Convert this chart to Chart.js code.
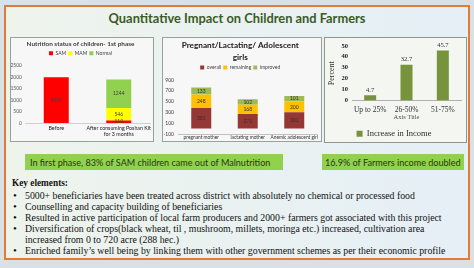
<!DOCTYPE html>
<html><head><meta charset="utf-8">
<script src="https://cdn.jsdelivr.net/npm/chart.js@4.4.0/dist/chart.umd.min.js"></script>
<style>
html,body{margin:0;padding:0;}
body{width:474px;height:268px;background:#d9e1e6;position:relative;overflow:hidden;font-family:Lato,'Liberation Sans',sans-serif;}
#panel{position:absolute;left:4px;top:5px;width:462px;height:251px;border:2px solid #e07b39;background:linear-gradient(90deg,#eef4ec,#e5eff6);}
.abs{position:absolute;white-space:nowrap;}
#title{left:0;width:474px;top:8px;height:20px;line-height:20px;text-align:center;color:#3a5a26;font-weight:bold;font-size:15px;}
.box{position:absolute;background:#f6f7f6;border:1px solid #9aa09a;overflow:hidden;}
.box canvas{position:absolute;left:0;top:0;}
.green{position:absolute;background:#92d050;color:#1e3a10;height:16px;line-height:16px;font-size:11px;white-space:nowrap;}
.ke{position:absolute;left:25px;height:11px;line-height:11px;font-family:'Liberation Serif',serif;font-size:11px;color:#111;white-space:nowrap;}
.bul{position:absolute;left:13px;height:11px;line-height:11px;font-family:'Liberation Serif',serif;font-size:11px;color:#111;}
</style></head>
<body>
<div id="panel"></div>
<div id="title" class="abs">Quantitative Impact on Children and Farmers</div>

<div class="box" style="left:10px;top:37px;width:142px;height:103px;"><canvas id="c1" width="142" height="103"></canvas></div>
<div class="box" style="left:162px;top:37px;width:158px;height:103px;"><canvas id="c2" width="158" height="103"></canvas></div>
<div class="box" style="left:324px;top:37px;width:141px;height:104px;background:#f3f6f1;border-color:#8e968e;"><canvas id="c3" width="141" height="110"></canvas></div>

<div class="green" id="g1" style="left:25px;top:154px;width:258px;"><span style="padding-left:5px">In first phase, 83% of SAM children came out of Malnutrition</span></div>
<div class="green" id="g2" style="left:322px;top:154px;width:142px;"><span style="padding-left:3px">16.9% of Farmers income doubled</span></div>

<div class="ke" id="keyhead" style="left:12px;top:178px;font-weight:bold;">Key elements:</div>
<div id="keys"></div>

<script>
// ---------- data ----------
const c1Categories = ["Before", ["After consuming Poshan Kit", "for 3 months"]];
const c1SAM = [2000, 110];
const c1MAM = [null, 546];
const c1Normal = [null, 1244];

const c2Categories = ["pregnant mother", "lactating mother", "Anemic adolescent girl"];
const c2Overall = [381, 271, 301];
const c2Remaining = [248, 168, 200];
const c2Improved = [133, 102, 101];

const c3Categories = ["Up to 25%", "26-50%", "51-75%"];
const c3Income = [4.7, 32.7, 45.7];

const keyLines = [
  ["•", "5000+ beneficiaries have been treated across district with absolutely no chemical or processed food"],
  ["•", "Counselling and capacity building of beneficiaries"],
  ["•", "Resulted in active participation of local farm producers and 2000+ farmers got associated with this project"],
  ["•", "Diversification of crops(black wheat, til , mushroom,  millets, moringa  etc.) increased, cultivation area"],
  ["", "increased from 0 to  720 acre (288 hec.)"],
  ["•", "Enriched family\u2019s well being by linking them with other government schemes as per their economic profile"]
];

// ---------- text ----------
const keysEl = document.getElementById('keys');
const tops = [190, 201, 212, 223, 234, 245];
keyLines.forEach((l, i) => {
  if (l[0]) { const b = document.createElement('div'); b.className = 'bul'; b.style.top = tops[i] + 'px'; b.textContent = l[0]; keysEl.appendChild(b); }
  const d = document.createElement('div'); d.className = 'ke key'; d.style.top = tops[i] + 'px'; d.textContent = l[1]; keysEl.appendChild(d);
});
const mctx = document.createElement('canvas').getContext('2d');
function fitSize(text, family, weight, target) {
  mctx.font = `${weight} 100px ${family}`;
  return 100 * target / mctx.measureText(text).width;
}
const tEl = document.getElementById('title');
tEl.style.fontSize = fitSize(tEl.textContent, 'Lato', 'bold', 257).toFixed(2) + 'px';
const g1 = document.querySelector('#g1 span'); g1.style.fontSize = fitSize(g1.textContent, 'Lato', 'normal', 241).toFixed(2) + 'px';
const g2 = document.querySelector('#g2 span'); g2.style.fontSize = fitSize(g2.textContent, 'Lato', 'normal', 136).toFixed(2) + 'px';
const kh = document.getElementById('keyhead'); kh.style.fontSize = fitSize(kh.textContent, "'Liberation Serif'", 'bold', 56).toFixed(2) + 'px';
const kSize = fitSize(keyLines[0][1], "'Liberation Serif'", 'normal', 390).toFixed(2) + 'px';
document.querySelectorAll('.key').forEach(e => { e.style.fontSize = kSize; });

// ---------- value label plugin ----------
const valueLabels = {
  id: 'valueLabels',
  afterDatasetsDraw(chart, args, opts) {
    const ctx = chart.ctx; ctx.save();
    ctx.font = opts.font; ctx.fillStyle = opts.color; ctx.textAlign = 'center'; ctx.textBaseline = 'middle';
    chart.data.datasets.forEach((ds, i) => {
      const meta = chart.getDatasetMeta(i);
      meta.data.forEach((bar, j) => {
        const v = ds.data[j]; if (v == null) return;
        const y = opts.position === 'top' ? bar.y - opts.offset : (bar.y + bar.base) / 2;
        ctx.fillText(String(v), bar.x, y);
      });
    });
    ctx.restore();
  }
};
const fixX = (h) => (s) => { s.height = h; s.paddingLeft = 0; s.paddingRight = 0; };
const fixY = (w) => (s) => { s.width = w; };
const noGrid = { display: false, drawTicks: false, tickLength: 0 };

const calibri = 'Lato';
// ---------- chart 1 ----------
new Chart(document.getElementById('c1'), {
  type: 'bar',
  data: { labels: c1Categories, datasets: [
    { label: 'SAM', data: c1SAM, backgroundColor: '#ff0000' },
    { label: 'MAM', data: c1MAM, backgroundColor: '#ffff00' },
    { label: 'Normal', data: c1Normal, backgroundColor: '#92d050' }
  ]},
  plugins: [valueLabels],
  options: {
    responsive: false, animation: false, devicePixelRatio: 1,
    layout: { padding: { left: 0, right: 3, top: 0, bottom: 0 } },
    datasets: { bar: { categoryPercentage: 1, barPercentage: 0.4 } },
    plugins: {
      title: { display: true, text: 'Nutrition status of children- 1st phase', color: '#404040', font: { family: calibri, size: 6.4 }, padding: { top: 2, bottom: 1 } },
      legend: { labels: { boxWidth: 4, boxHeight: 4, padding: 2, color: '#404040', font: { family: calibri, size: 5 } } },
      tooltip: { enabled: false },
      valueLabels: { font: `5px ${calibri}`, color: '#404040' }
    },
    scales: {
      x: { stacked: true, afterFit: fixX(18), grid: noGrid, border: { color: '#d0d0d0' }, ticks: { color: '#202020', font: { family: calibri, size: 5.3, lineHeight: 1.15 }, padding: 2, maxRotation: 0, autoSkip: false } },
      y: { stacked: true, min: 0, max: 2500, afterFit: fixY(14), grid: noGrid, border: { display: false }, ticks: { stepSize: 500, autoSkip: false, callback: v => String(v), color: '#595959', font: { family: calibri, size: 5 }, padding: 3 } }
    }
  }
});

// ---------- chart 2 ----------
new Chart(document.getElementById('c2'), {
  type: 'bar',
  data: { labels: c2Categories, datasets: [
    { label: 'overall', data: c2Overall, backgroundColor: '#953735' },
    { label: 'remaining', data: c2Remaining, backgroundColor: '#ffc000' },
    { label: 'improved', data: c2Improved, backgroundColor: '#9bbb59' }
  ]},
  plugins: [valueLabels],
  options: {
    responsive: false, animation: false, devicePixelRatio: 1,
    layout: { padding: { left: 0, right: 3.5, top: 0, bottom: 0 } },
    datasets: { bar: { categoryPercentage: 1, barPercentage: 0.43 } },
    plugins: {
      title: { display: true, text: ['Pregnant/Lactating/ Adolescent', 'girls'], color: '#202020', font: { family: calibri, size: 8.2, weight: 'bold', lineHeight: 1.4 }, padding: { top: 2, bottom: 0 } },
      legend: { labels: { boxWidth: 4, boxHeight: 4, padding: 2, color: '#404040', font: { family: calibri, size: 5 } } },
      tooltip: { enabled: false },
      valueLabels: { font: `5px ${calibri}`, color: '#303030' }
    },
    scales: {
      x: { stacked: true, afterFit: fixX(7), grid: noGrid, border: { color: '#c0c0c0' }, ticks: { color: '#303030', font: { family: calibri, size: 4.8 }, padding: 1, maxRotation: 0, autoSkip: false } },
      y: { stacked: true, min: -100, max: 900, afterFit: fixY(15), grid: noGrid, border: { display: false }, ticks: { stepSize: 200, autoSkip: false, color: '#404040', font: { family: calibri, size: 5 }, padding: 4 } }
    }
  }
});

// ---------- chart 3 ----------
const serif = "'Liberation Serif', serif";
new Chart(document.getElementById('c3'), {
  type: 'bar',
  data: { labels: c3Categories, datasets: [
    { label: 'Increase in Income', data: c3Income, backgroundColor: '#77933c' }
  ]},
  plugins: [valueLabels],
  options: {
    responsive: false, animation: false, devicePixelRatio: 1,
    layout: { padding: { left: 2, right: 5, top: 6, bottom: 0 } },
    datasets: { bar: { categoryPercentage: 1, barPercentage: 0.33 } },
    plugins: {
      legend: { position: 'bottom', labels: { boxWidth: 6, boxHeight: 6, padding: 3, color: '#303030', font: { family: serif, size: 8.5 } } },
      tooltip: { enabled: false },
      valueLabels: { font: `6.5px ${serif}`, color: '#303030', position: 'top', offset: 5 }
    },
    scales: {
      x: { afterFit: fixX(26), grid: noGrid, border: { color: '#b0b0b0' }, title: { display: true, text: 'Axis Title', color: '#505050', font: { family: serif, size: 6.5 }, padding: { top: 1, bottom: 5 } }, ticks: { color: '#303030', font: { family: serif, size: 7.5 }, padding: 5, maxRotation: 0, autoSkip: false } },
      y: { min: 0, max: 50, afterFit: fixY(25), grid: noGrid, border: { display: false }, title: { display: true, text: 'Percent', color: '#303030', font: { family: serif, size: 8 }, padding: 0 }, ticks: { stepSize: 10, autoSkip: false, color: '#1a1a1a', font: { family: serif, size: 6.5, weight: 'bold' }, padding: 4 } }
    }
  }
});
</script>
</body></html>
